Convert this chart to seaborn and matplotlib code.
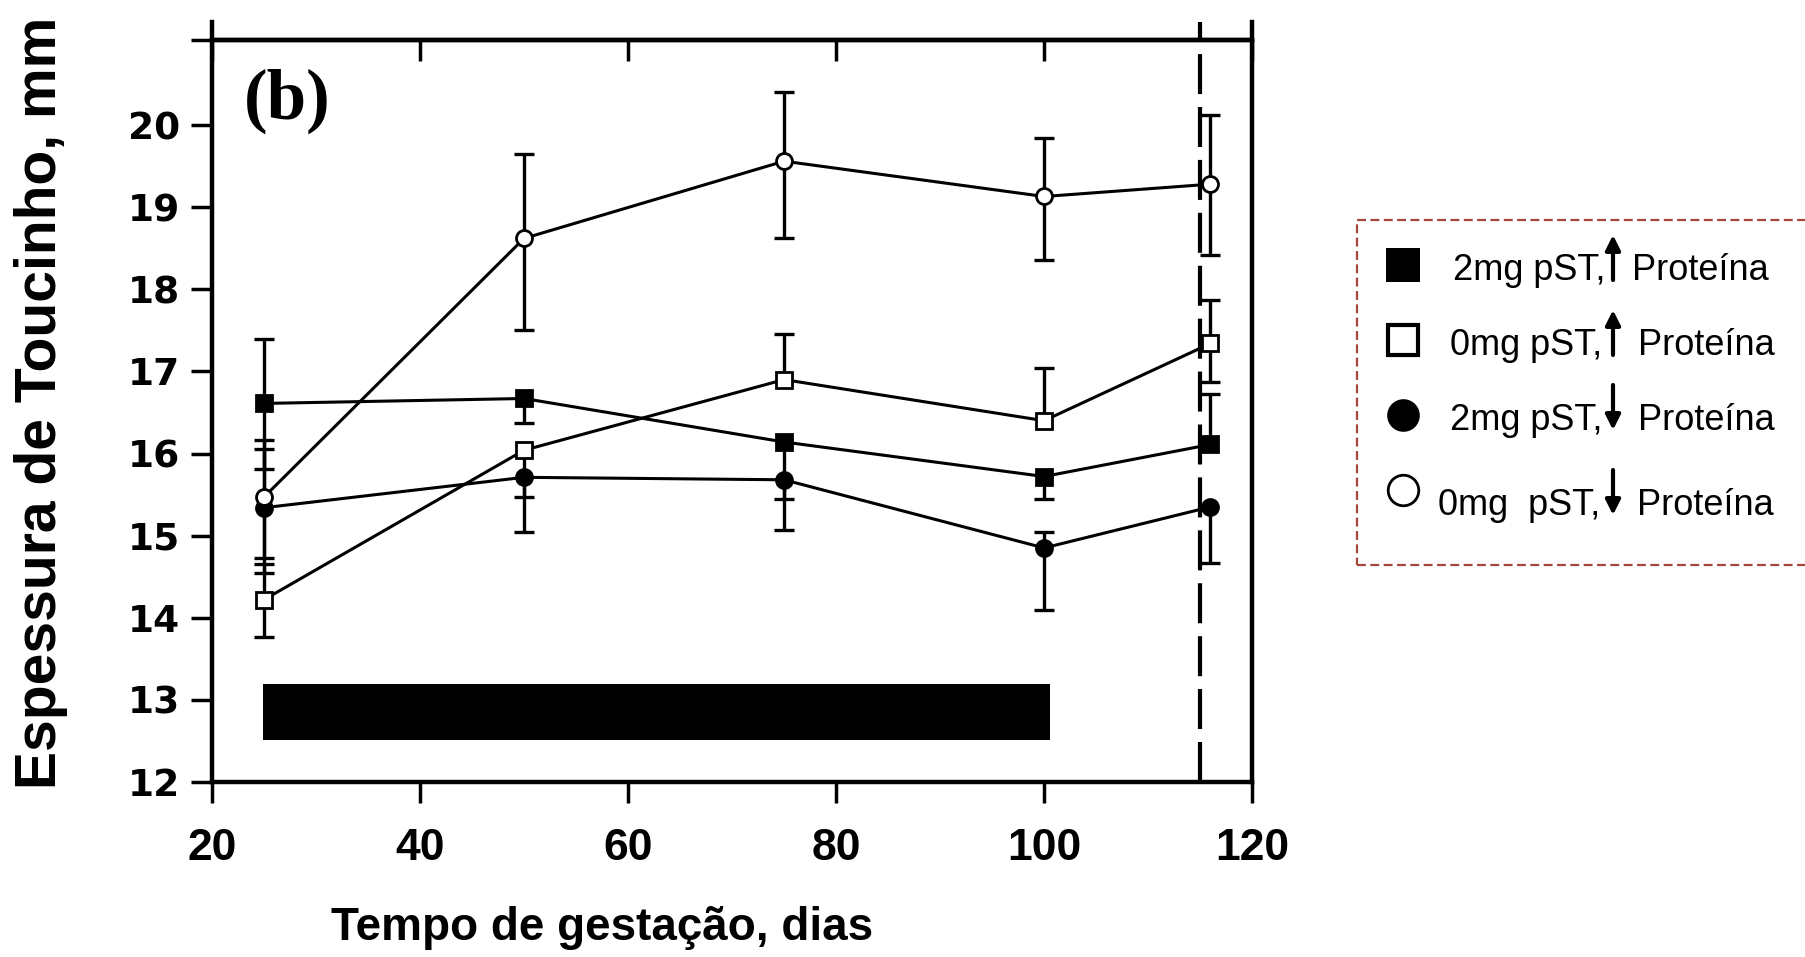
import numpy as np
import pandas as pd
import matplotlib
matplotlib.use('Agg')
import matplotlib.pyplot as plt
import seaborn as sns
from matplotlib.lines import Line2D
from matplotlib.patches import Rectangle
from matplotlib.ticker import FixedLocator

nan = np.nan

# dias de gestação
dias = [25, 50, 75, 100, 116]

# médias (mm)
pst2_alta = [16.61, 16.67, 16.14, 15.72, 16.11]
pst0_alta = [14.22, 16.04, 16.90, 16.40, 17.34]
pst2_baixa = [15.34, 15.71, 15.68, 14.85, 15.35]
pst0_baixa = [15.47, 18.62, 19.56, 19.13, 19.28]

# extremos das barras de erro (nan = sem barra visível)
pst2_alta_inf = [15.81, 16.37, 15.07, 15.45, nan]
pst2_alta_sup = [17.40, nan, nan, nan, 16.73]
pst0_alta_inf = [13.77, 15.05, nan, nan, 16.87]
pst0_alta_sup = [14.66, nan, 17.46, 17.04, 17.87]
pst2_baixa_inf = [14.54, 15.47, 15.45, 14.10, 14.67]
pst2_baixa_sup = [16.06, nan, nan, 15.05, nan]
pst0_baixa_inf = [14.73, 17.50, 18.62, 18.36, 18.42]
pst0_baixa_sup = [16.16, 19.65, 20.40, 19.84, 20.12]

# período de tratamento (barra preta) e parto (linha tracejada)
trat_inicio, trat_fim = 24.86, 100.54
trat_y0, trat_y1 = 12.51, 13.19
parto = 115

xticks = [20, 40, 60, 80, 100, 120]
yticks = [12, 13, 14, 15, 16, 17, 18, 19, 20]
ytopo = 21.03

grupos = ['2mg pST,↑ Proteína', '0mg pST,↑ Proteína',
          '2mg pST,↓ Proteína', '0mg  pST,↓ Proteína']
prefixos = ['2mg pST,', '0mg pST,', '2mg pST,', '0mg  pST,']
setas = ['↑', '↑', '↓', '↓']

series = [
    (grupos[0], pst2_alta, pst2_alta_inf, pst2_alta_sup, 's', 'black'),
    (grupos[1], pst0_alta, pst0_alta_inf, pst0_alta_sup, 's', 'white'),
    (grupos[2], pst2_baixa, pst2_baixa_inf, pst2_baixa_sup, 'o', 'black'),
    (grupos[3], pst0_baixa, pst0_baixa_inf, pst0_baixa_sup, 'o', 'white'),
]

df = pd.concat([pd.DataFrame({'dia': dias, 'valor': s[1], 'grupo': s[0]}) for s in series])

sns.set_style('ticks')
plt.rcParams['font.family'] = ['Liberation Sans', 'DejaVu Sans']
plt.rcParams['text.color'] = 'black'
plt.rcParams['xtick.color'] = 'black'
plt.rcParams['ytick.color'] = 'black'
plt.rcParams['axes.labelcolor'] = 'black'

fig = plt.figure(figsize=(18.06, 9.57), dpi=100)
ax = fig.add_axes([0.1174, 0.1829, 0.5759, 0.7748])

for nome, media, inf, sup, mk, fc in series:
    m = np.array(media)
    lo = np.array(inf)
    hi = np.array(sup)
    base = np.where(np.isnan(lo), m, lo)
    topo = np.where(np.isnan(hi), m, hi)
    ax.vlines(dias, base, topo, color='black', lw=2.4, zorder=2)
    ax.plot(dias, lo, ls='none', marker='_', ms=15, mew=2.4, color='black', zorder=2)
    ax.plot(dias, hi, ls='none', marker='_', ms=15, mew=2.4, color='black', zorder=2)
    sns.lineplot(data=df[df['grupo'] == nome], x='dia', y='valor', ax=ax,
                 color='black', lw=2.2, marker=mk, ms=11.5, mfc=fc, mec='black',
                 mew=2, zorder=3, legend=False, errorbar=None)

# barra do tratamento
ax.fill_between([trat_inicio, trat_fim], trat_y0, trat_y1, color='black', lw=0, zorder=2)

# parto
ax.axvline(parto, ymin=0, ymax=(21.25 - 12) / (ytopo - 12), color='black', lw=3,
           ls=(0, (9.6, 3.1)), clip_on=False, zorder=2)

ax.set_xlim(20, 120)
ax.set_ylim(12, ytopo)
ax.set_xticks(xticks)
ax.set_yticks(yticks)
ax.yaxis.set_minor_locator(FixedLocator([ytopo]))
ax.set_xlabel('')
ax.set_ylabel('')

ax.tick_params(axis='both', which='major', direction='out', length=15, width=2.5, color='black')
ax.tick_params(axis='y', which='minor', direction='out', length=15, width=2.5, left=True)
ax.tick_params(axis='x', top=False, pad=18)
ax.tick_params(axis='y', pad=8)
for lbl in ax.get_yticklabels():
    lbl.set_fontfamily('DejaVu Sans')
    lbl.set_fontweight('bold')
    lbl.set_fontsize(27)
for lbl in ax.get_xticklabels():
    lbl.set_fontfamily('Liberation Sans')
    lbl.set_fontweight('bold')
    lbl.set_fontsize(32)

for lado in ['left', 'right', 'bottom', 'top']:
    ax.spines[lado].set_visible(True)
    ax.spines[lado].set_linewidth(3.2)
    ax.spines[lado].set_color('black')
ax.spines['left'].set_bounds(12, 21.25)
ax.spines['right'].set_bounds(12, 21.25)

sec = ax.secondary_xaxis('top')
sec.set_xticks(xticks)
sec.tick_params(direction='in', length=15, width=2.5, labeltop=False)
sec.spines['top'].set_linewidth(3.2)

ax.text(0.031, 0.894, '(b)', transform=ax.transAxes, fontsize=51, fontweight='bold',
        family='Liberation Serif', ha='left', va='baseline')

fig.text(0.0225, 0.579, 'Espessura de Toucinho, mm', rotation=90, fontsize=41,
         fontweight='bold', ha='center', va='center')
fig.text(0.3333, 1 - 940 / 957, 'Tempo de gestação, dias', fontsize=33,
         fontweight='bold', ha='center', va='baseline')

# legenda desenhada à mão (posições em pixels da figura, origem em cima)
H = 957
fig.add_artist(Rectangle((1357 / 1806, 1 - 565 / H), 0.26, 345 / H,
                         transform=fig.transFigure, fill=False, edgecolor='#A5473A',
                         lw=1.6, ls=(0, (4, 2)), clip_on=False))
leg_mk = [('s', 'black', 24, 0), ('s', 'white', 21, 3), ('o', 'black', 23.5, 0), ('o', 'white', 22, 2)]
leg_y = [265, 340, 415, 490]
txt_x = [1453, 1450, 1450, 1438]
base_y = [280, 355, 430, 515]
seta_x = 1613
prot_x = [1632, 1638, 1638, 1637]
for i in range(4):
    mk, fc, ms, mew = leg_mk[i]
    fig.add_artist(Line2D([1403 / 1806], [1 - leg_y[i] / H], transform=fig.transFigure,
                          marker=mk, ms=ms, mfc=fc, mec='black', mew=mew, ls='none'))
    fig.text(txt_x[i] / 1806, 1 - base_y[i] / H, prefixos[i], fontsize=26,
             ha='left', va='baseline')
    fig.text(prot_x[i] / 1806, 1 - base_y[i] / H, 'Proteína', fontsize=26,
             ha='left', va='baseline')
    y_baixo = H - base_y[i]
    y_alto = y_baixo + 45
    if setas[i] == '↑':
        ini, fim = y_baixo, y_alto
    else:
        ini, fim = y_alto, y_baixo
    ax.annotate('', xy=(seta_x, fim), xytext=(seta_x, ini), xycoords='figure pixels',
                textcoords='figure pixels', annotation_clip=False,
                arrowprops=dict(arrowstyle='-|>', lw=3, color='black', mutation_scale=22,
                                shrinkA=0, shrinkB=0))

fig.savefig('out.png', dpi=100)
